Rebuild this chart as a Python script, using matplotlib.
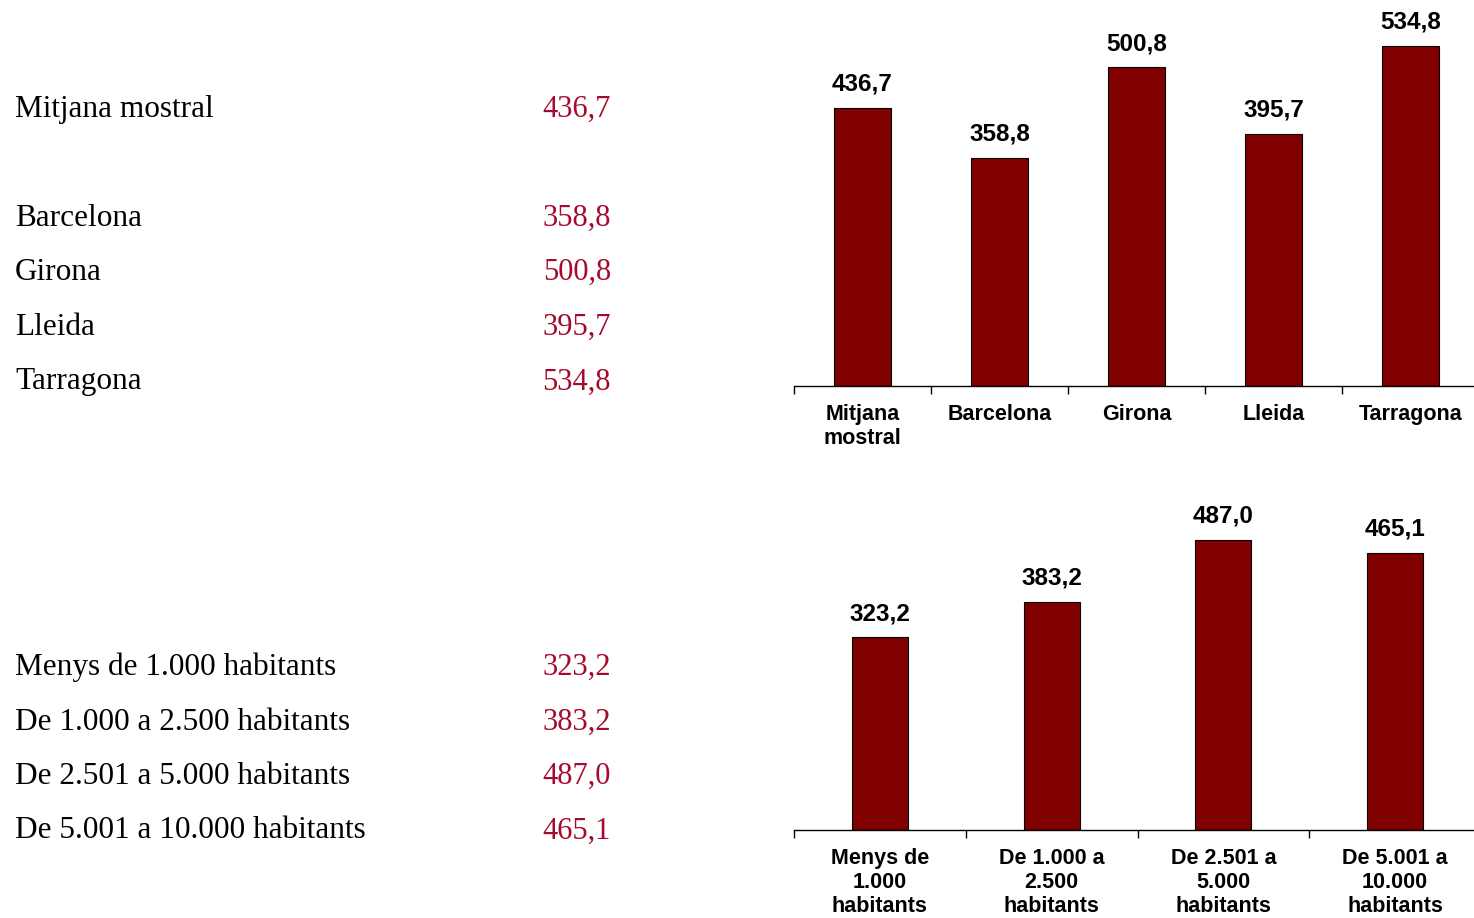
import numpy as np
import matplotlib
matplotlib.use("Agg")
import matplotlib.pyplot as plt

# data
prov_labels = ["Mitjana mostral", "Barcelona", "Girona", "Lleida", "Tarragona"]
prov_ticks = ["Mitjana\nmostral", "Barcelona", "Girona", "Lleida", "Tarragona"]
prov_values = [436.7, 358.8, 500.8, 395.7, 534.8]

hab_labels = ["Menys de 1.000 habitants", "De 1.000 a 2.500 habitants",
              "De 2.501 a 5.000 habitants", "De 5.001 a 10.000 habitants"]
hab_ticks = ["Menys de\n1.000\nhabitants", "De 1.000 a\n2.500\nhabitants",
             "De 2.501 a\n5.000\nhabitants", "De 5.001 a\n10.000\nhabitants"]
hab_values = [323.2, 383.2, 487.0, 465.1]

W, H = 1474, 918
BAR = "#800000"
RED = "#a50a2d"


def fmt(v):
    return ("%.1f" % v).replace(".", ",")


def barchart(ax, ticks, values, width, ymax):
    n = len(values)
    x = np.arange(n)
    ax.bar(x, values, width=width, color=BAR, edgecolor="black", linewidth=0.8)
    for xi, v in zip(x, values):
        ax.annotate(fmt(v), (xi, v), xytext=(0, 17), textcoords="offset points",
                    ha="center", va="center", fontsize=17.5, fontweight="bold",
                    family="Liberation Sans")
    ax.set_xlim(-0.5, n - 0.5)
    ax.set_ylim(0, ymax)
    for s in ["top", "right", "left"]:
        ax.spines[s].set_visible(False)
    ax.spines["bottom"].set_linewidth(1.0)
    ax.set_yticks([])
    ax.set_xticks(np.arange(n + 1) - 0.5)
    ax.set_xticklabels([])
    ax.tick_params(axis="x", which="major", length=6, width=1.0, direction="out")
    ax.set_xticks(x, minor=True)
    ax.set_xticklabels(ticks, minor=True, fontsize=15.5, fontweight="bold",
                       family="Liberation Sans", linespacing=1.2)
    ax.tick_params(axis="x", which="minor", length=0, pad=13)
    ax.patch.set_alpha(0)


fig = plt.figure(figsize=(W / 100, H / 100), dpi=100)

# top chart: baseline y=386 px, 0.6366 px per unit
ax1 = fig.add_axes([794 / W, (H - 386) / H, 685 / W, 386 / H])
barchart(ax1, prov_ticks, prov_values, 0.41, 386 / 0.6366)

# bottom chart: baseline y=830 px, 0.596 px per unit
ax2 = fig.add_axes([794 / W, (H - 830) / H, 687 / W, 350 / H])
barchart(ax2, hab_ticks, hab_values, 0.325, 350 / 0.596)

# left table
rows_top = [109, 218, 272, 327, 382]
rows_bot = [667, 722, 776, 831]
for lab, v, yp in list(zip(prov_labels, prov_values, rows_top)) + list(zip(hab_labels, hab_values, rows_bot)):
    fig.text(15 / W, 1 - yp / H, lab, ha="left", va="center", fontsize=22.5,
             family="Liberation Serif", color="black")
    fig.text(611 / W, 1 - yp / H, fmt(v), ha="right", va="center", fontsize=22,
             family="Liberation Serif", color=RED)

fig.savefig("out.png", dpi=100)
